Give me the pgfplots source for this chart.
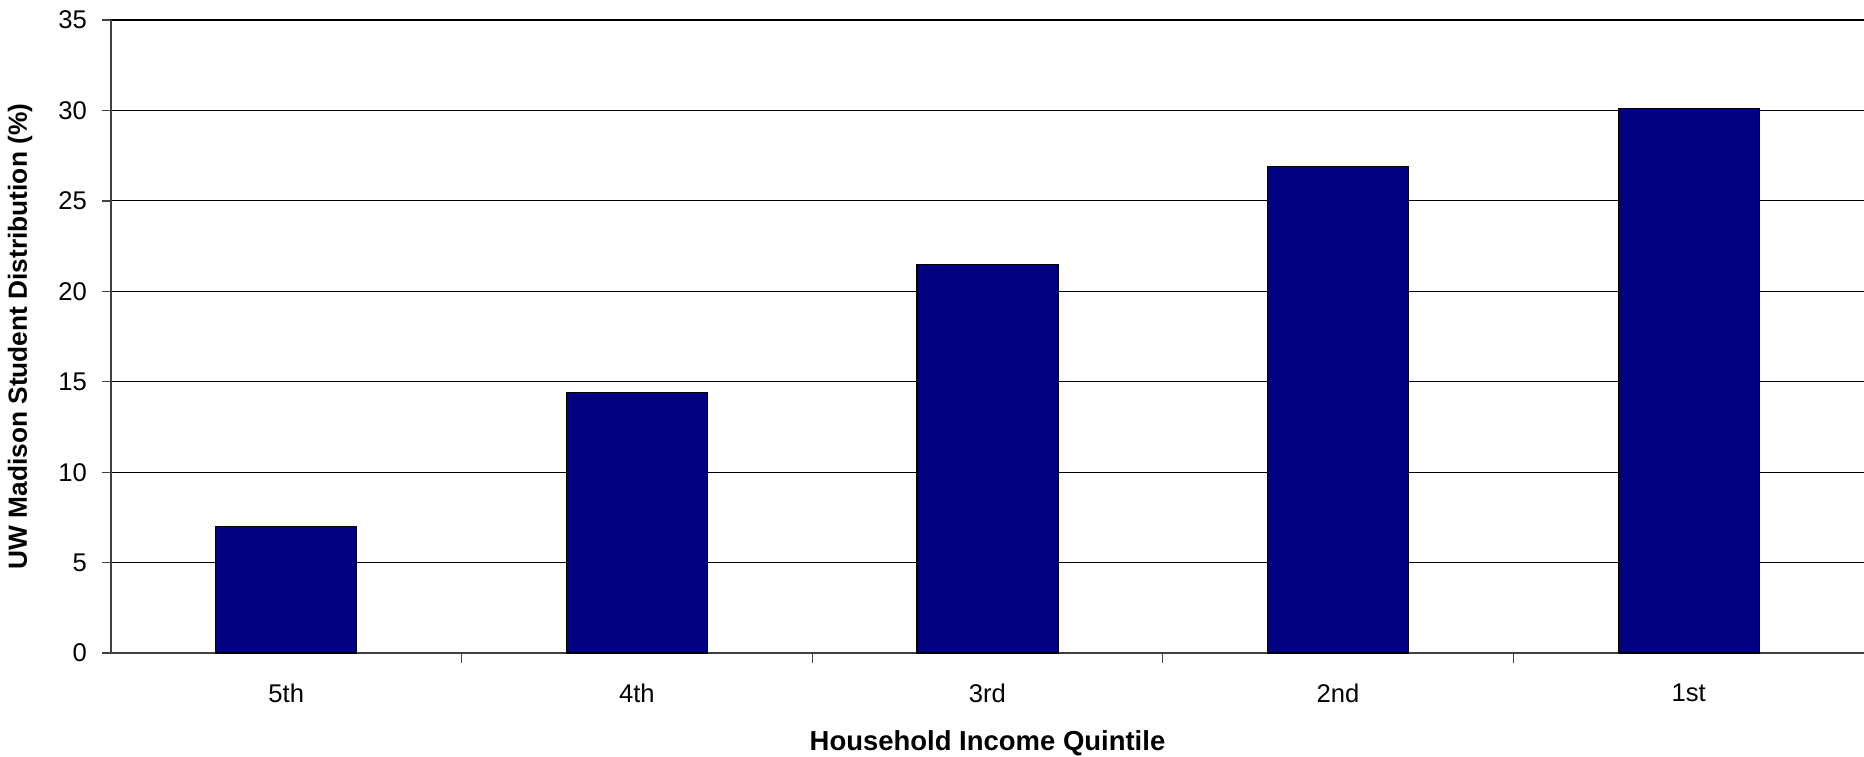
\documentclass[border=0pt]{standalone}
\usepackage{pgfplots}
\pgfplotsset{compat=1.18}
\usepackage{fontspec}
\setmainfont{Liberation Sans}
\usetikzlibrary{calc}
\definecolor{barblue}{RGB}{0,0,128}

\begin{document}
\begin{tikzpicture}
\begin{axis}[
    scale only axis,
    width=657.4pt, height=237.4pt,
    xmin=0.5, xmax=5.5,
    ymin=0, ymax=35,
    axis x line*=bottom,
    axis y line*=left,
    axis line style={black!75, line width=0.5pt},
    ytick={0,5,...,35},
    xtick={1,2,3,4,5},
    xticklabels={5th,4th,3rd,2nd,1st},
    minor xtick={1.5,2.5,3.5,4.5},
    tick align=outside,
    major tick length=3.4pt,
    minor tick length=3.8pt,
    major x tick style={draw=none},
    tick style={black!75, line width=0.5pt},
    ymajorgrids=true,
    grid style={black, line width=0.45pt},
    tick label style={font=\fontsize{9.6}{11}\selectfont},
    xticklabel style={yshift=-4.5pt},
    yticklabel style={xshift=-2.1pt},
    /pgf/number format/assume math mode=true,
    xlabel={\bfseries Household Income Quintile},
    ylabel={\bfseries UW Madison Student Distribution (\%)},
    xlabel style={font=\fontsize{10.3}{12}\selectfont, at={(rel axis cs:0.5,0)}, anchor=base, yshift=-36.4pt},
    ylabel style={font=\fontsize{9.85}{12}\selectfont, at={($(rel axis cs:0,0.5)+(-34.1pt,0pt)$)}, anchor=center},
]
\addplot[ybar, bar width=0.402, fill=barblue, draw=black, line width=0.5pt]
    coordinates {(1,7.0) (2,14.4) (3,21.5) (4,26.9) (5,30.1)};
\coordinate (sw) at (rel axis cs:0,0);
\coordinate (ne) at (rel axis cs:1,1);
\end{axis}
\pgfresetboundingbox
\path ($(sw)+(-41.6pt,-38.6pt)$) rectangle ($(ne)+(0,7.5pt)$);
\end{tikzpicture}
\end{document}
